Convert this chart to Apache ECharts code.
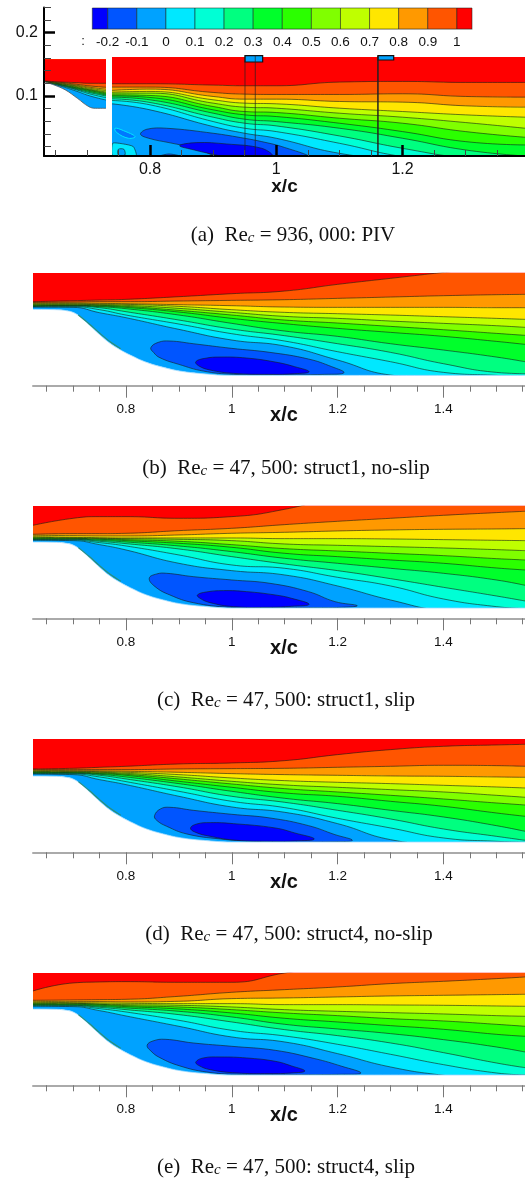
<!DOCTYPE html>
<html><head><meta charset="utf-8">
<style>html,body{margin:0;padding:0;background:#fff}#c{width:525px;height:1178px}</style>
<script src="https://cdn.jsdelivr.net/npm/echarts@6/dist/echarts.min.js"></script>
</head><body><div id="c"></div>
<script>
// ---- colour levels (legend) ----
const legendEdges = [-0.253,-0.2,-0.1,0,0.1,0.2,0.3,0.4,0.5,0.6,0.7,0.8,0.9,1,1.052];
const legendColors = ['#0000ff','#0055ff','#00a2ff','#00e8ff','#00ffd5','#00ff80','#00ff2b','#2bff00','#80ff00','#bfff00','#ffe600','#ff9900','#ff5500','#ff0000'];
const legendTicks = [-0.2,-0.1,0,0.1,0.2,0.3,0.4,0.5,0.6,0.7,0.8,0.9,1];
// ---- axis ticks ----
const majorTicks = [0.8,1,1.2,1.4];
const minorTicks = [0.65,0.7,0.75,0.85,0.9,0.95,1.05,1.1,1.15,1.25,1.3,1.35,1.45,1.5,1.55];
const aMajorX = [0.8,1,1.2];
const aMinorX = [0.65,0.7,0.75,0.85,0.9,0.95,1.05,1.1,1.15,1.25,1.3,1.35];
const aMajorY = [0.1,0.2];
const aMinorY = [0.02,0.04,0.06,0.08,0.12,0.14,0.16,0.18,0.22,0.24];
// ---- common stations ----
const colX = [0.6242,0.7,0.75,0.8,0.9,1.0,1.1,1.2,1.3,1.4,1.5,1.5543];
const wallX = [0.6242,0.669,0.688,0.7,0.713,0.732,0.751,0.77,0.789,0.808,0.839,0.871,0.902,0.946,1.0,1.2,1.5543];
const wallH = [229,228,225,220,207,180,152,127,108,92,70,55,44,36,31,31,31];
const sliverX = [0.71,0.73,0.75,0.77,0.79];
const sliverH = [212,186,158,132,111];
// ---- panel b ----
const b00=[236,235,219,204,169,137,119,77,32,22,22,22];
const b10=[237,237,228,212,185,156,134,102,72,40,31,26];
const b20=[238,239,234,222,197,170,150,126,100,66,40,36];
const b30=[239,240,237,231,212,187,164,148,126,107,86,72];
const b40=[240,241,239,235,221,202,186,172,160,148,133,124];
const b50=[242,242,241,238,226,212,197,188,178,168,157,151];
const b60=[244,244,243,241,232,220,208,202,194,187,180,175];
const b70=[246,246,245,244,238,228,220,216,212,207,202,199];
const b80=[248,248,247,246,243,240,236,235,235,235,234,234];
const b90=[250,251,252,252,254,256,258,262,266,270,273,274];
const b100=[252,255,257,259,267,276,284,304,322,340,357,362];
const bBlobAX=[.847,.861,.883,.927,1.0,1.072,1.145,1.189,1.212,1.176,1.082,1.003,.946,.900,.864,.852];
const bBlobAH=[114,130,134,126,112,100,80,57,39,34,33,34,44,64,84,100];
const bBlobBX=[.932,.949,.978,1.028,1.082,1.119,1.146,1.119,1.072,1.003,.959,.937];
const bBlobBH=[72,82,86,83,71,57,42,36,34,37,47,60];
// ---- panel c ----
const c00=[234,233,221,205,165,143,130,97,55,23,15,15];
const c10=[236,235,227,217,190,160,150,123,97,58,35,29];
const c20=[237,237,231,224,208,185,163,143,119,93,67,52];
const c30=[238,238,234,229,217,200,180,165,150,135,115,99];
const c40=[239,239,237,233,225,213,195,185,175,165,151,145];
const c50=[241,241,239,236,231,221,209,202,195,188,179,175];
const c60=[243,242,240,239,237,233,223,219,215,211,206,203];
const c70=[245,243,242,241,241,241,239,239,238,236,234,233];
const c80=[249,248,247,247,250,255,258,262,265,267,268,269];
const c90=[252,254,254,255,263,270,281,291,300,309,317,321];
const c100=[279,300,305,305,300,305,327,365,385,385,385,385];
const cBlobAX=[.844,.858,.877,.927,1.0,1.072,1.145,1.195,1.237,1.208,1.145,1.072,.997,.927,.883,.855];
const cBlobAH=[120,133,135,125,115,105,80,50,38,33,32,32,33,47,70,95];
const cBlobBX=[.935,.952,.984,1.028,1.082,1.113,1.146,1.113,1.072,1.003,.959,.94];
const cBlobBH=[70,79,83,80,70,60,42,36,33,35,47,60];
// ---- panel d ----
const d00=[235,233,218,203,168,136,120,86,38,23,18,18];
const d10=[236,235,226,212,183,153,134,102,73,43,33,30];
const d20=[237,237,231,220,196,168,150,126,100,70,48,36];
const d30=[238,238,234,226,206,183,162,146,126,106,80,63];
const d40=[240,239,236,231,213,195,178,168,153,138,118,108];
const d50=[241,241,238,234,220,205,191,181,171,160,148,142];
const d60=[243,242,240,237,226,213,202,195,188,181,171,165];
const d70=[244,243,242,240,233,223,215,210,206,201,196,193];
const d80=[246,245,244,243,240,236,233,231,229,228,226,225];
const d90=[248,248,248,248,250,251,252,255,258,261,260,258];
const d100=[250,252,255,258,265,268,275,293,308,318,322,324];
const dBlobAX=[.854,.865,.883,.927,1.0,1.072,1.145,1.195,1.228,1.195,1.082,1.041,.978,.915,.877,.858];
const dBlobAH=[110,130,135,126,114,103,80,53,36,32,31,33,40,55,78,96];
const dBlobBX=[.922,.934,.959,1.003,1.082,1.119,1.156,1.119,1.072,1.009,.959,.93];
const dBlobBH=[73,85,89,86,73,58,40,34,33,36,48,61];
// ---- panel e ----
const e00=[237,236,224,208,177,145,130,95,55,30,15,15];
const e10=[239,238,230,220,195,165,148,123,93,62,37,31];
const e20=[240,240,234,227,212,190,167,149,127,98,67,53];
const e30=[242,241,237,232,222,205,183,169,155,137,115,100];
const e40=[243,243,240,236,229,217,201,190,179,168,153,147];
const e50=[245,245,243,239,235,227,217,209,200,193,183,177];
const e60=[247,246,244,242,240,235,227,222,218,214,209,207];
const e70=[249,248,247,246,245,245,242,242,241,240,238,237];
const e80=[252,251,251,250,252,260,262,265,268,270,272,273];
const e90=[255,256,257,258,267,279,287,295,305,312,320,325];
const e100=[283,307,310,311,309,309,337,360,380,380,380,380];
const eBlobAX=[.840,.851,.874,.927,1.0,1.082,1.157,1.208,1.244,1.208,1.082,1.009,.952,.902,.864,.847];
const eBlobAH=[120,133,138,127,117,105,80,57,37,33,32,33,40,58,83,103];
const eBlobBX=[.932,.946,.978,1.028,1.082,1.113,1.138,1.113,1.072,1.009,.959,.937];
const eBlobBH=[70,82,85,82,72,58,43,37,35,37,47,60];
// ---- panel a, right block ----
const aColX=[.7398,.8,.9,.95,1.0,1.1,1.2,1.3,1.394];
const a00=[156,138,88,68,53,8,-12,-32,-52];
const a10=[166,153,103,83,73,38,-2,-22,-42];
const a20=[171,160,116,98,90,60,23,-7,-22];
const a30=[176,168,128,110,103,83,53,18,0];
const a40=[180,175,138,123,118,98,73,43,33];
const a50=[183,181,148,133,130,113,98,73,56];
const a60=[188,188,158,146,143,128,116,100,83];
const a70=[191,193,168,158,156,143,133,123,116];
const a80=[196,200,178,170,170,163,161,150,146];
const a90=[206,206,190,185,184,184,186,178,176];
const a100=[216,216,212,210,210,221,223,220,220];
const aBlobAX=[.785,.795,.826,.9,.95,.977,1.009,1.049,.91,.875,.83,.8];
const aBlobAH=[65,80,83,68,53,43,28,-2,-2,22,40,52];
const aBlobBX=[.847,.874,.921,.977,.993,.92,.9,.87];
const aBlobBH=[31,40,36,23,0,-2,5,18];
const aStreakX=[.7446,.7578,.7763,.7657,.7473];
const aStreakH=[83,76,58,53,70];
const aPatchX=[.741,.758,.7736,.778,.741];
const aPatchH=[38,36,28,0,0];
const aHoleX=[.7498,.7587,.7603,.7498];
const aHoleH=[20,20,3,3];
const aLowX=[.816,.83,.847,.83];
const aLowH=[0,6,0,-2];
// ---- panel a, left block ----
const alX=[.632,.6575,.684,.705,.7303];
const al00=[222,210,194,180,168];
const al10=[222,212,198,186,175];
const al20=[222,213,200,190,180];
const al30=[223,214,202,193,183];
const al40=[223,215,204,196,186];
const al50=[223,216,206,198,189];
const al60=[224,217,208,200,192];
const al70=[224,218,210,203,196];
const al80=[224,219,212,206,200];
const al90=[225,221,215,210,206];
const al100=[225,222,220,218,218];
const alWallX=[.632,.648,.666,.685,.703,.714,.7303];
const alWallH=[223,213,198,173,148,143,143];
// ---- probe markers on panel a (x/c, y/c) ----
const probeLinesX=[.9504,.9667,1.161];
const probeLinesW=[0.7,0.7,1.5];
const probeBoxAX=[.9504,.9784,.9784,.9504];
const probeBoxAY=[.1637,.1637,.1537,.1537];
const probeBoxBX=[1.161,1.186,1.186,1.161];
const probeBoxBY=[.1637,.1637,.1569,.1569];
const captions=[
 ['(a)  Re{s|c} = 936, 000: PIV',293,235],
 ['(b)  Re{s|c} = 47, 500: struct1, no-slip',286,468.5],
 ['(c)  Re{s|c} = 47, 500: struct1, slip',286,700.5],
 ['(d)  Re{s|c} = 47, 500: struct4, no-slip',289,934.5],
 ['(e)  Re{s|c} = 47, 500: struct4, slip',286,1167.5]
];

const FONT='"Liberation Sans",Arial,sans-serif';
const LINE='rgba(20,30,20,0.85)';
const fillColors=legendColors.slice(2); // band above wall, then above each contour
const grid=[],xAxis=[],yAxis=[],series=[];
let order=2;
function addSeries(s){s.z=order++;series.push(s);}

function zip(xs,ys){return xs.map((x,i)=>[x,ys[i]]);}
function polygon(xi,yi,xs,ys,color,smooth,stroke,lw){
  addSeries({type:'custom',xAxisIndex:xi,yAxisIndex:yi,clip:true,silent:true,
    data:zip(xs,ys),encode:{x:0,y:1},
    renderItem(p,api){
      if(p.dataIndex!==0)return null;
      const pts=zip(xs,ys).map(d=>api.coord(d));
      return {type:'polygon',shape:{points:pts,smooth:smooth},
        style:{fill:color,stroke:stroke||LINE,lineWidth:lw===undefined?0.7:lw}};
    }});
}
function contour(xi,yi,xs,ys,color,lineOn){
  addSeries({type:'line',xAxisIndex:xi,yAxisIndex:yi,data:zip(xs,ys),showSymbol:false,silent:true,
    smooth:0.5,
    lineStyle:{color:LINE,width:lineOn?0.7:0,opacity:lineOn?1:0},
    areaStyle:{color:color,opacity:1,origin:'end'}});
}
function whiteWall(xi,yi,xs,ys,lineColor){
  addSeries({type:'line',xAxisIndex:xi,yAxisIndex:yi,data:zip(xs,ys),showSymbol:false,silent:true,
    smooth:0.4,
    lineStyle:{color:lineColor,width:0.8},
    areaStyle:{color:'#fff',opacity:1,origin:'start'}});
}
function panel(top,axisY,levels,blobA,blobB){
  const gi=grid.length, xi=xAxis.length, yi=yAxis.length;
  grid.push({left:33,width:492,top:top,height:axisY-top});
  const lbl={show:true,customValues:majorTicks,fontFamily:FONT,fontSize:13.5,color:'#111',margin:17,hideOverlap:false,
    formatter:v=>String(v)};
  xAxis.push({type:'value',gridIndex:gi,position:'bottom',min:0.6242,max:1.5543,splitLine:{show:false},z:1000,
    name:'x/c',nameLocation:'middle',nameGap:20,nameMoveOverlap:false,
    nameTextStyle:{fontFamily:FONT,fontWeight:'bold',fontSize:20,color:'#111',padding:[0,0,0,10]},
    axisLine:{show:true,lineStyle:{color:'#aaa',width:2}},
    axisTick:{show:true,customValues:majorTicks,length:12,lineStyle:{color:'#777',width:1}},
    axisLabel:lbl});
  xAxis.push({type:'value',gridIndex:gi,position:'bottom',min:0.6242,max:1.5543,splitLine:{show:false},z:1000,
    axisLine:{show:false},axisLabel:{show:false},
    axisTick:{show:true,customValues:minorTicks,length:6,lineStyle:{color:'#777',width:1}}});
  yAxis.push({type:'value',gridIndex:gi,min:0,max:(axisY-top)*3,show:false});
  contour(xi,yi,wallX,wallH,fillColors[0],false);
  polygon(xi,yi,blobA[0],blobA[1],legendColors[1],0.45);
  polygon(xi,yi,blobB[0],blobB[1],legendColors[0],0.45);
  levels.forEach((l,i)=>contour(xi,yi,colX,l,fillColors[i+1],true));
  whiteWall(xi,yi,wallX,wallH,'#8fd6ff');
  addSeries({type:'line',xAxisIndex:xi,yAxisIndex:yi,data:zip(sliverX,sliverH),showSymbol:false,silent:true,
    smooth:0.3,lineStyle:{color:'#2a8f7a',width:1.2}});
}

// --- panel a: axes grid
grid.push({left:44,width:481,top:7.4,height:148.6});
xAxis.push({type:'value',gridIndex:0,position:'bottom',min:0.632,max:1.394,splitLine:{show:false},z:1000,
  name:'x/c',nameLocation:'middle',nameGap:21,nameMoveOverlap:false,
  nameTextStyle:{fontFamily:FONT,fontWeight:'bold',fontSize:19,color:'#111'},
  axisLine:{show:true,lineStyle:{color:'#000',width:2}},
  axisTick:{show:true,inside:true,customValues:aMajorX,length:11,lineStyle:{color:'#000',width:2.5}},
  axisLabel:{show:true,customValues:aMajorX,fontFamily:FONT,fontSize:16,color:'#111',margin:6,formatter:v=>String(v)}});
xAxis.push({type:'value',gridIndex:0,position:'bottom',min:0.632,max:1.394,splitLine:{show:false},z:1000,
  axisLine:{show:false},axisLabel:{show:false},
  axisTick:{show:true,inside:true,customValues:aMinorX,length:6,lineStyle:{color:'#444',width:1}}});
yAxis.push({type:'value',gridIndex:0,position:'left',min:0.0052,max:0.24,splitLine:{show:false},z:1000,
  axisLine:{show:true,lineStyle:{color:'#000',width:2}},
  axisTick:{show:true,inside:true,customValues:aMajorY,length:11,lineStyle:{color:'#000',width:2.5}},
  axisLabel:{show:true,customValues:aMajorY,fontFamily:FONT,fontSize:16,color:'#111',margin:6,formatter:v=>String(v)}});
yAxis.push({type:'value',gridIndex:0,position:'left',min:0.0052,max:0.24,splitLine:{show:false},z:1000,
  axisLine:{show:false},axisLabel:{show:false},
  axisTick:{show:true,inside:true,customValues:aMinorY,length:7,lineStyle:{color:'#444',width:1}}});
// left block
grid.push({left:44,width:62,top:59.3,height:96.7});
xAxis.push({type:'value',gridIndex:1,min:0.632,max:0.7303,show:false});
yAxis.push({type:'value',gridIndex:1,min:0,max:290,show:false});
// right block
grid.push({left:112,width:413,top:57,height:99});
xAxis.push({type:'value',gridIndex:2,min:0.7398,max:1.394,show:false});
yAxis.push({type:'value',gridIndex:2,min:0,max:296,show:false});
// legend bar
grid.push({left:92.3,width:379.7,top:8,height:21});
xAxis.push({type:'value',gridIndex:3,min:-0.253,max:1.052,splitLine:{show:false},z:1000,
  axisLine:{show:true,lineStyle:{color:'#aaa',width:1}},axisTick:{show:false},
  axisLabel:{show:true,customValues:legendTicks,fontFamily:FONT,fontSize:13.5,color:'#111',margin:6,formatter:v=>String(v)}});
yAxis.push({type:'value',gridIndex:3,min:0,max:1,show:false});
addSeries({type:'custom',xAxisIndex:4,yAxisIndex:4,silent:true,
  data:legendColors.map((c,i)=>[legendEdges[i],legendEdges[i+1]]),encode:{x:[0,1]},
  renderItem(p,api){
    const a=api.coord([api.value(0),1]),b=api.coord([api.value(1),0]);
    return {type:'rect',shape:{x:a[0],y:a[1],width:b[0]-a[0],height:b[1]-a[1]},
      style:{fill:legendColors[p.dataIndex],stroke:LINE,lineWidth:0.6}};
  }});

// left block of panel a
const LX=2,LY=2,RX=3,RY=3; // axis indices (a axes use 2 x and 2 y entries)
contour(LX,LY,alX,[0,0,0,0,0],fillColors[0],false);
[al00,al10,al20,al30,al40,al50,al60,al70,al80,al90,al100].forEach((l,i)=>contour(LX,LY,alX,l,fillColors[i+1],true));
whiteWall(LX,LY,alWallX,alWallH,'#555');
// right block of panel a
contour(RX,RY,aColX,[0,0,0,0,0,0,0,0,0],fillColors[0],false);
polygon(RX,RY,aPatchX,aPatchH,legendColors[3],0.2);
polygon(RX,RY,aHoleX,aHoleH,legendColors[2],0.3);
polygon(RX,RY,aStreakX,aStreakH,'#0078ff',0.4,legendColors[3],1);
polygon(RX,RY,aLowX,aLowH,legendColors[1],0.3);
polygon(RX,RY,aBlobAX,aBlobAH,legendColors[1],0.4);
polygon(RX,RY,aBlobBX,aBlobBH,legendColors[0],0.4);
[a00,a10,a20,a30,a40,a50,a60,a70,a80,a90,a100].forEach((l,i)=>contour(RX,RY,aColX,l,fillColors[i+1],true));
// probes on panel a
polygon(0,0,probeBoxAX,probeBoxAY,legendColors[2],0,'#111',1.2);
polygon(0,0,probeBoxBX,probeBoxBY,legendColors[2],0,'#111',1.2);
probeLinesX.forEach((x,i)=>addSeries({type:'line',xAxisIndex:0,yAxisIndex:0,showSymbol:false,silent:true,
  data:[[x,0.0052],[x,0.1637]],lineStyle:{color:'#222',width:probeLinesW[i]}}));

panel(273,385.7,[b00,b10,b20,b30,b40,b50,b60,b70,b80,b90,b100],[bBlobAX,bBlobAH],[bBlobBX,bBlobBH]);
panel(506,618.3,[c00,c10,c20,c30,c40,c50,c60,c70,c80,c90,c100],[cBlobAX,cBlobAH],[cBlobBX,cBlobBH]);
panel(739,852.3,[d00,d10,d20,d30,d40,d50,d60,d70,d80,d90,d100],[dBlobAX,dBlobAH],[dBlobBX,dBlobBH]);
panel(973,1085.3,[e00,e10,e20,e30,e40,e50,e60,e70,e80,e90,e100],[eBlobAX,eBlobAH],[eBlobBX,eBlobBH]);

const graphic=captions.map(c=>({type:'text',x:c[1],y:c[2],z:5000,silent:true,
  style:{text:c[0],fontFamily:'"Liberation Serif",serif',fontSize:21,fill:'#111',align:'center',verticalAlign:'middle',
    rich:{s:{fontFamily:'"Liberation Serif",serif',fontStyle:'italic',fontSize:15,fill:'#111',verticalAlign:'bottom',lineHeight:15,padding:[6,0,0,0]}}}}));
graphic.push({type:'text',x:83,y:41,z:5000,silent:true,style:{text:':',fontFamily:FONT,fontSize:13,fill:'#111',align:'center',verticalAlign:'middle'}});

const chart=echarts.init(document.getElementById('c'),null,{renderer:'canvas',width:525,height:1178});
chart.setOption({animation:false,backgroundColor:'#fff',grid,xAxis,yAxis,series,graphic});
</script></body></html>
